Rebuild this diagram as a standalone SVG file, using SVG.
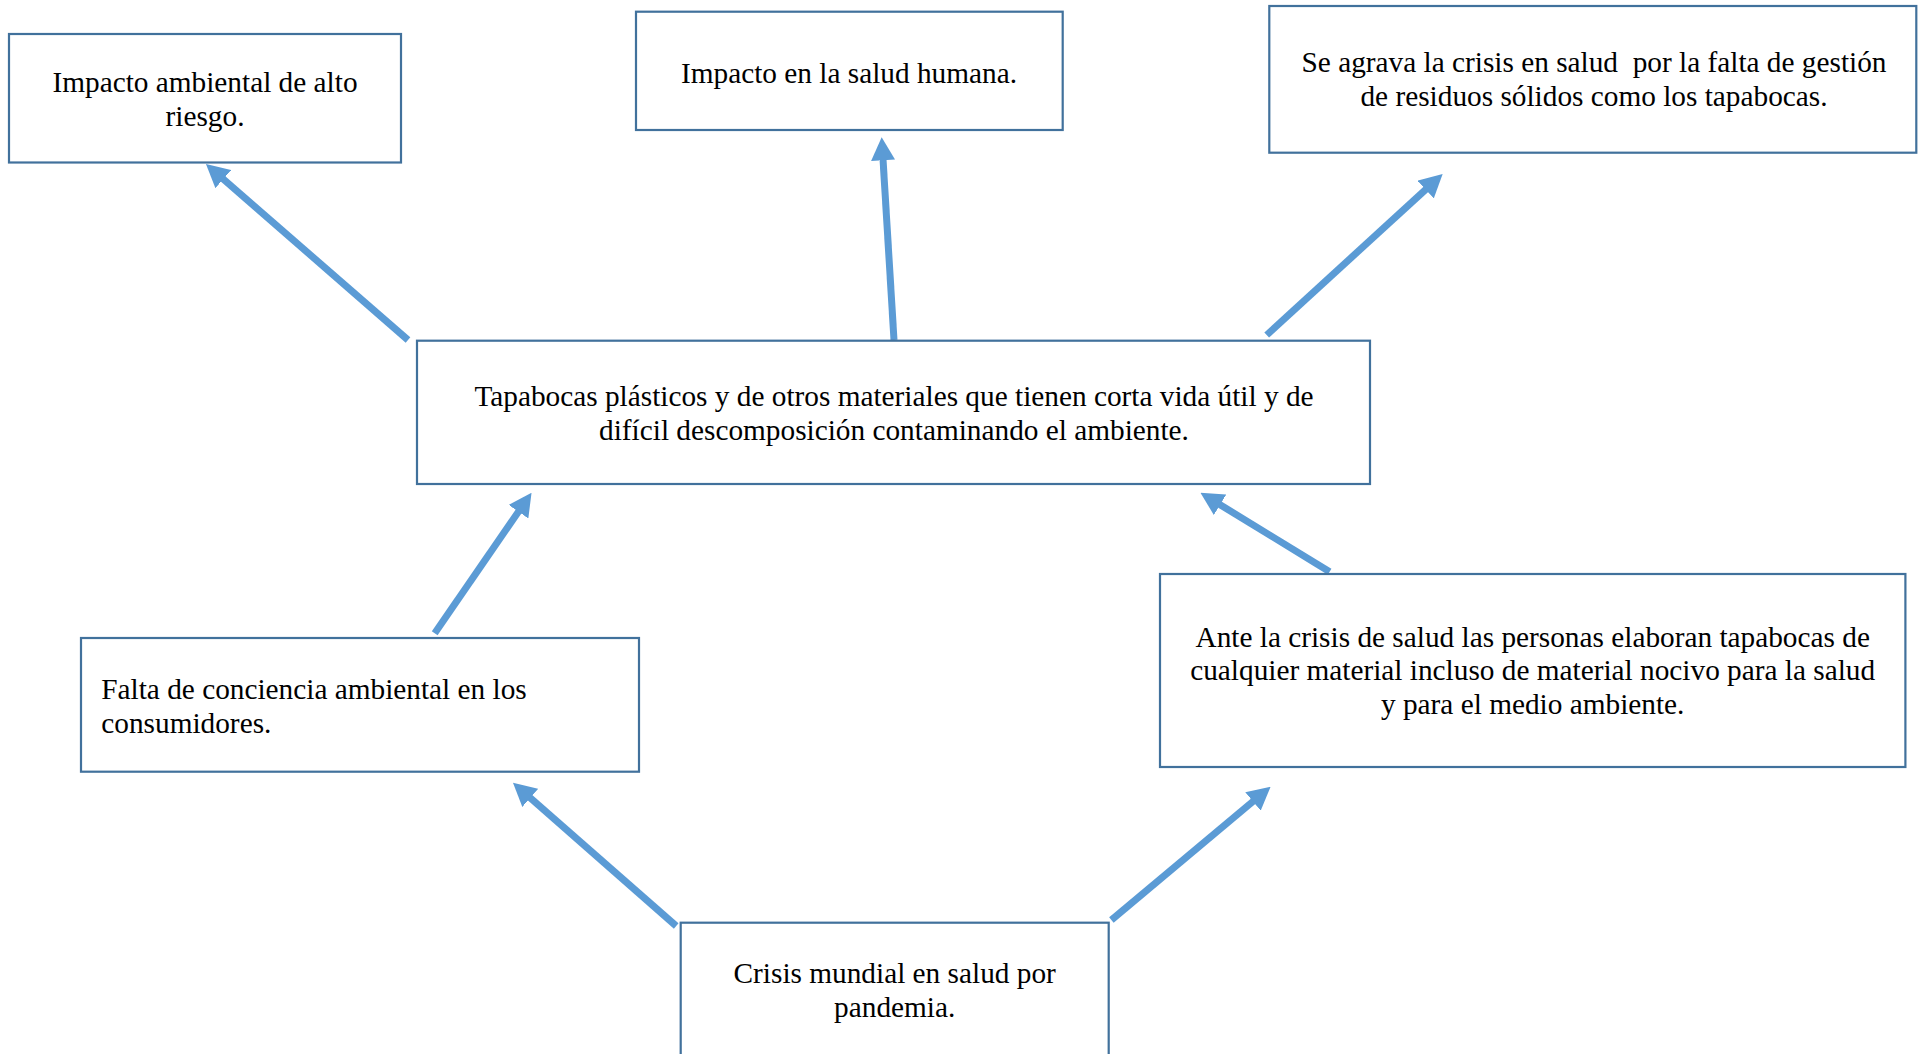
<svg xmlns="http://www.w3.org/2000/svg" width="1926" height="1054" viewBox="0 0 1926 1054">
  <style>
    .box { fill: #ffffff; stroke: #41719C; stroke-width: 2.2; }
    .lbl { font-family: "Liberation Serif", "Times New Roman", serif; font-size: 29.3px; fill: #000000; }
    .mid { text-anchor: middle; }
    .arrow { stroke: #5B9BD5; stroke-width: 7; fill: none; stroke-linecap: butt; marker-end: url(#head); }
  </style>
  <defs>
    <marker id="head" markerUnits="userSpaceOnUse" viewBox="0 0 23 24" markerWidth="23" markerHeight="24" refX="11" refY="12" orient="auto">
      <path d="M0,0 L23,12 L0,24 z" fill="#5B9BD5"/>
    </marker>
  </defs>
  <rect width="1926" height="1054" fill="#ffffff"/>

  <!-- connectors -->
  <g id="connectors">
    <line class="arrow" x1="408" y1="340" x2="215.0" y2="171.9"/>
    <line class="arrow" x1="894" y1="340" x2="882.4" y2="149.3"/>
    <line class="arrow" x1="1266.7" y1="335" x2="1433.8" y2="182.1"/>
    <line class="arrow" x1="434.7" y1="633.3" x2="524.7" y2="502.6"/>
    <line class="arrow" x1="1329.6" y1="571.7" x2="1210.7" y2="499.0"/>
    <line class="arrow" x1="676.2" y1="926" x2="522.0" y2="790.6"/>
    <line class="arrow" x1="1111.4" y1="920" x2="1261.4" y2="794.4"/>
  </g>

  <!-- effects (top row) -->
  <g id="impacto-ambiental">
    <rect class="box" x="9" y="34" width="392" height="128.5"/>
    <text class="lbl mid" x="205" y="92">Impacto ambiental de alto</text>
    <text class="lbl mid" x="205" y="125.5">riesgo.</text>
  </g>
  <g id="impacto-salud">
    <rect class="box" x="636" y="11.7" width="426.7" height="118.3"/>
    <text class="lbl mid" x="849" y="82.5">Impacto en la salud humana.</text>
  </g>
  <g id="crisis-agravada">
    <rect class="box" x="1269.3" y="6" width="647" height="146.7"/>
    <text class="lbl mid" x="1594" y="72" xml:space="preserve">Se agrava la crisis en salud  por la falta de gestión</text>
    <text class="lbl mid" x="1594" y="105.5">de residuos sólidos como los tapabocas.</text>
  </g>

  <!-- central problem -->
  <g id="tapabocas">
    <rect class="box" x="417" y="340.7" width="953" height="143.3"/>
    <text class="lbl mid" x="894" y="406">Tapabocas plásticos y de otros materiales que tienen corta vida útil y de</text>
    <text class="lbl mid" x="894" y="440">difícil descomposición contaminando el ambiente.</text>
  </g>

  <!-- causes -->
  <g id="falta-conciencia">
    <rect class="box" x="81" y="638" width="558" height="133.7"/>
    <text class="lbl" x="101.3" y="699">Falta de conciencia ambiental en los</text>
    <text class="lbl" x="101.3" y="733">consumidores.</text>
  </g>
  <g id="elaboracion-casera">
    <rect class="box" x="1160" y="574" width="745.4" height="193"/>
    <text class="lbl mid" x="1532.7" y="646.5">Ante la crisis de salud las personas elaboran tapabocas de</text>
    <text class="lbl mid" x="1532.7" y="680">cualquier material incluso de material nocivo para la salud</text>
    <text class="lbl mid" x="1532.7" y="714">y para el medio ambiente.</text>
  </g>
  <g id="crisis-mundial">
    <rect class="box" x="680.7" y="922.7" width="428" height="150"/>
    <text class="lbl mid" x="894.7" y="982.7">Crisis mundial en salud por</text>
    <text class="lbl mid" x="894.7" y="1016.5">pandemia.</text>
  </g>
</svg>
